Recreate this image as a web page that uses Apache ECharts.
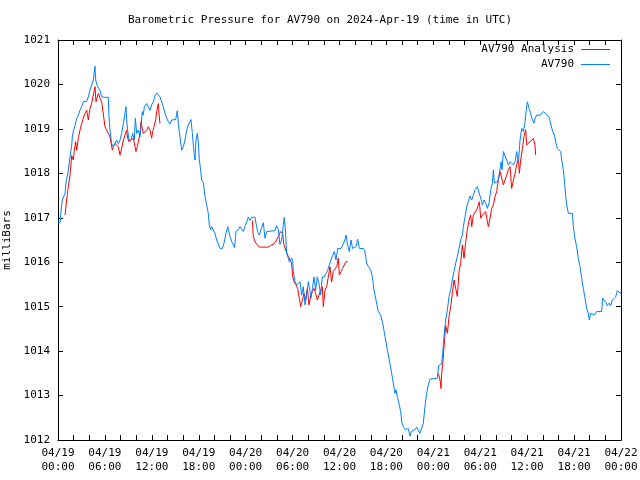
<!DOCTYPE html>
<html>
<head>
<meta charset="utf-8">
<script src="https://cdn.jsdelivr.net/npm/echarts@6/dist/echarts.min.js"></script>
<style>html,body{margin:0;padding:0;background:#fff}#c{width:640px;height:480px}</style>
</head>
<body>
<div id="c"></div>
<script>
// Hours since 2024-04-19 00:00 UTC
const blueHours = [0.0,0.26,0.4,0.55,0.77,0.9,1.02,1.32,1.53,1.75,1.83,1.96,2.17,2.39,2.6,2.81,3.03,3.24,3.45,3.67,3.88,4.09,4.3,4.52,4.73,4.82,4.95,5.07,5.24,5.37,5.58,5.93,6.44,6.52,6.65,6.86,7.08,7.29,7.5,7.72,7.93,8.14,8.36,8.57,8.7,8.78,8.91,9.08,9.34,9.55,9.76,9.89,10.06,10.27,10.49,10.61,10.78,10.91,11.04,11.21,11.34,11.55,11.77,11.98,12.19,12.4,12.62,12.83,13.04,13.26,13.47,13.68,13.9,14.11,14.32,14.54,14.75,15.05,15.26,15.39,15.6,15.82,16.03,16.24,16.46,16.67,17.01,17.18,17.4,17.52,17.65,17.82,17.95,18.07,18.24,18.37,18.59,18.8,19.01,19.22,19.35,19.52,19.65,19.86,20.08,20.29,20.5,20.72,21.01,21.23,21.48,21.7,21.83,22.0,22.21,22.42,22.59,22.76,23.06,23.27,23.49,23.7,23.91,24.13,24.34,24.55,24.77,25.19,25.32,25.53,25.75,25.96,26.26,26.47,26.68,26.9,27.75,27.96,28.18,28.39,28.6,28.82,28.94,29.11,29.24,29.46,29.58,29.88,30.01,30.1,30.31,30.52,30.73,30.95,31.16,31.37,31.59,31.8,32.01,32.23,32.35,32.57,32.74,32.95,33.16,33.38,33.59,33.8,34.06,34.27,34.49,34.7,34.91,35.13,35.34,35.55,35.77,36.19,36.4,36.62,36.83,37.04,37.26,37.47,37.68,37.9,38.11,38.32,38.54,39.05,39.26,39.47,39.69,39.98,40.2,40.41,40.67,40.96,41.26,41.52,41.82,42.12,42.37,42.67,42.88,43.1,43.22,43.39,43.65,43.82,43.99,44.16,44.42,44.59,44.8,45.01,45.23,45.44,45.65,45.87,46.08,46.29,46.5,46.72,46.93,47.15,47.36,47.57,47.79,48.51,48.68,49.06,49.2,49.37,49.58,49.8,50.01,50.22,50.43,50.65,50.86,51.07,51.29,51.5,51.71,51.84,52.06,52.27,52.48,52.69,52.91,53.12,53.33,53.63,53.85,54.06,54.27,54.48,54.7,54.91,55.12,55.34,55.55,55.68,55.81,56.02,56.23,56.45,56.66,56.79,56.96,57.17,57.38,57.6,57.81,58.02,58.24,58.45,58.66,58.88,59.09,59.3,59.52,59.73,59.86,60.03,60.24,60.45,60.67,60.88,61.01,61.22,61.43,61.65,61.86,62.07,62.29,62.58,62.84,63.05,63.27,63.48,63.69,63.86,64.08,64.29,64.42,64.63,64.76,64.93,65.06,65.27,65.78,65.91,66.12,66.33,66.54,66.76,66.97,67.18,67.4,67.61,67.82,67.95,68.12,68.33,68.59,68.89,69.53,69.66,69.87,70.08,70.25,70.47,70.68,70.89,71.11,71.32,71.53,71.74,71.96,72.0];
const bluePressure = [1016.9,1016.89,1017.18,1017.4,1017.36,1017.55,1017.78,1018.07,1018.37,1018.62,1018.82,1018.95,1019.07,1019.24,1019.31,1019.42,1019.5,1019.61,1019.65,1019.62,1019.72,1019.87,1019.99,1020.1,1020.41,1020.1,1020.1,1019.95,1019.91,1019.87,1019.72,1019.71,1019.71,1019.27,1018.97,1018.67,1018.6,1018.67,1018.75,1018.67,1018.75,1018.9,1019.12,1019.35,1019.5,1019.2,1018.97,1018.75,1018.75,1018.9,1018.75,1019.24,1018.9,1018.97,1018.82,1019.05,1019.39,1019.31,1019.5,1019.46,1019.57,1019.61,1019.42,1019.54,1019.61,1019.74,1019.81,1019.8,1019.72,1019.69,1019.5,1019.35,1019.24,1019.16,1019.11,1019.2,1019.21,1019.21,1019.41,1019.12,1018.82,1018.52,1018.6,1018.75,1018.97,1019.09,1019.21,1018.9,1018.45,1018.3,1018.75,1018.9,1018.68,1018.3,1018.08,1017.85,1017.78,1017.48,1017.29,1017.1,1016.84,1016.73,1016.8,1016.76,1016.65,1016.5,1016.41,1016.31,1016.31,1016.43,1016.65,1016.8,1016.82,1016.58,1016.46,1016.39,1016.33,1016.69,1016.73,1016.8,1016.82,1016.69,1016.8,1016.91,1017.01,1016.94,1017.01,1017.01,1016.88,1016.69,1016.61,1016.73,1016.89,1016.54,1016.69,1016.71,1016.71,1016.82,1016.73,1016.4,1016.5,1016.85,1017.01,1016.65,1016.2,1016.09,1016.01,1016.09,1016.01,1015.79,1015.56,1015.49,1015.45,1015.56,1015.26,1015.45,1015.04,1015.26,1015.56,1015.34,1015.19,1015.45,1015.67,1015.37,1015.67,1015.52,1015.26,1015.67,1015.67,1015.75,1015.82,1015.94,1016.05,1016.16,1016.24,1016.05,1016.31,1016.31,1016.35,1016.46,1016.61,1016.39,1016.24,1016.5,1016.31,1016.28,1016.35,1016.52,1016.31,1016.31,1016.24,1015.98,1015.9,1015.83,1015.68,1015.38,1015.15,1014.89,1014.81,1014.63,1014.33,1014.03,1013.8,1013.5,1013.28,1013.05,1013.13,1012.98,1012.79,1012.64,1012.38,1012.3,1012.23,1012.26,1012.26,1012.09,1012.2,1012.19,1012.23,1012.29,1012.29,1012.15,1012.13,1012.38,1012.75,1013.05,1013.24,1013.37,1013.39,1013.39,1013.67,1013.71,1013.95,1014.33,1014.7,1014.93,1015.23,1015.38,1015.6,1015.79,1015.98,1016.13,1016.31,1016.5,1016.61,1016.8,1017.03,1017.25,1017.36,1017.49,1017.4,1017.51,1017.63,1017.7,1017.7,1017.44,1017.29,1017.4,1017.33,1017.21,1017.33,1017.63,1017.78,1018.08,1017.78,1017.74,1017.81,1018.0,1018.26,1018.08,1018.49,1018.45,1018.3,1018.19,1018.26,1018.3,1018.19,1018.26,1018.49,1018.26,1018.75,1019.01,1018.94,1019.16,1019.39,1019.61,1019.46,1019.35,1019.2,1019.13,1019.24,1019.31,1019.28,1019.31,1019.28,1019.39,1019.35,1019.31,1019.24,1019.09,1018.94,1018.86,1018.68,1018.56,1018.53,1018.49,1018.3,1018.08,1017.85,1017.48,1017.29,1017.1,1017.1,1016.8,1016.52,1016.35,1016.09,1015.9,1015.64,1015.41,1015.19,1014.96,1014.85,1014.7,1014.85,1014.81,1014.81,1014.89,1014.89,1015.19,1015.21,1015.09,1015.02,1015.08,1015.02,1015.15,1015.11,1015.22,1015.36,1015.39,1015.3,1015.34];

// Analysis series; null marks a gap in the record
const redHours = [0.9,1.1,1.32,1.53,1.75,1.96,2.09,2.26,2.39,2.6,2.81,3.03,3.24,3.45,3.67,3.88,4.09,4.3,4.52,4.73,4.86,5.03,5.16,5.29,5.37,5.58,5.8,6.01,6.22,6.44,6.65,6.95,7.08,7.29,7.5,7.72,7.93,8.14,8.36,8.57,8.78,8.91,9.08,9.34,9.64,9.85,9.97,10.15,10.27,10.49,10.61,10.78,10.91,11.13,11.34,11.55,11.77,11.98,12.11,12.28,12.49,12.62,12.83,12.92,13.04,13.5,24.85,24.98,25.19,25.41,25.75,26.9,27.32,27.62,27.96,28.18,28.47,28.6,28.73,28.9,29.16,29.46,29.67,29.88,30.01,30.18,30.44,30.65,30.86,31.03,31.25,31.46,31.67,31.89,32.1,32.31,32.53,32.74,32.95,33.16,33.38,33.59,33.8,33.93,34.14,34.36,34.57,34.78,35.0,35.21,35.42,35.64,35.85,35.98,36.19,36.4,36.62,36.83,37.04,40.0,48.64,48.86,48.98,49.06,49.2,49.37,49.58,49.8,50.01,50.22,50.43,50.65,50.86,51.07,51.29,51.5,51.71,51.93,52.14,52.35,52.57,52.78,52.91,53.12,53.33,53.55,53.76,53.89,54.06,54.27,54.48,54.7,54.83,55.04,55.25,55.47,55.68,55.89,56.1,56.32,56.53,56.74,56.96,57.17,57.38,57.6,57.81,58.02,58.24,58.45,58.66,58.88,59.0,59.17,59.39,59.6,59.81,59.94,60.15,60.37,60.58,60.79,60.92,61.0,61.09];
const redPressure = [1017.06,1017.4,1017.7,1017.95,1018.4,1018.3,1018.52,1018.71,1018.52,1018.79,1018.97,1019.12,1019.24,1019.35,1019.42,1019.2,1019.46,1019.57,1019.61,1019.95,1019.61,1019.61,1019.8,1019.76,1019.69,1019.61,1019.57,1019.05,1018.97,1018.9,1018.82,1018.52,1018.6,1018.67,1018.67,1018.6,1018.41,1018.56,1018.75,1018.86,1018.97,1018.79,1018.71,1018.75,1018.79,1018.82,1018.49,1018.6,1018.71,1018.9,1019.16,1019.12,1018.9,1018.86,1018.97,1019.05,1018.97,1018.79,1018.94,1019.05,1019.2,1019.39,1019.57,1019.35,1019.12,null,1016.94,1016.58,1016.46,1016.41,1016.34,1016.34,1016.39,1016.41,1016.5,1016.58,1016.69,1016.69,1016.65,1016.39,1016.25,1016.13,1016.05,1015.98,1015.67,1015.56,1015.49,1015.41,1015.19,1015.0,1015.15,1015.3,1015.15,1015.41,1015.04,1015.22,1015.34,1015.41,1015.3,1015.15,1015.26,1015.37,1015.45,1015.0,1015.37,1015.45,1015.67,1015.9,1015.56,1015.79,1015.82,1015.9,1016.09,1015.71,1015.79,1015.86,1015.94,1016.01,1016.01,null,1013.5,1013.35,1013.16,1013.5,1013.7,1014.1,1014.57,1014.4,1014.78,1015.0,1015.3,1015.6,1015.41,1015.23,1015.79,1015.98,1016.39,1016.09,1016.46,1016.73,1016.95,1017.06,1016.8,1017.06,1017.1,1017.18,1017.29,1017.36,1016.99,1017.06,1017.1,1017.14,1016.99,1016.8,1016.99,1017.21,1017.29,1017.48,1017.59,1017.85,1018.04,1018.08,1017.74,1017.85,1017.96,1018.08,1018.15,1017.66,1017.85,1018.0,1018.19,1018.34,1018.0,1018.3,1018.56,1018.83,1018.98,1018.64,1018.68,1018.71,1018.75,1018.79,1018.83,1018.64,1018.41];

const seriesNames = ['AV790 Analysis', 'AV790'];
const titleText = 'Barometric Pressure for AV790 on 2024-Apr-19 (time in UTC)';
const yName = 'milliBars';

const FONT = 'DejaVu Sans Mono';
function pad(n){return (n<10?'0':'')+n;}
function xLabel(h){
  if (Math.round(h) % 6 !== 0) return '';
  const day = 19 + Math.floor(h/24);
  const hr = Math.round(h) % 24;
  return '04/' + pad(day) + '\n' + pad(hr) + ':00';
}
const blueData = blueHours.map((h,i)=>[h, bluePressure[i]]);
const redData = redHours.map((h,i)=>[h, redPressure[i] === null ? '-' : redPressure[i]]);

const axisCommon = {
  axisLine:{show:true, onZero:false, lineStyle:{color:'#000', width:1}},
  axisTick:{show:true, inside:true, length:5, lineStyle:{color:'#000'}},
  splitLine:{show:false}
};
const legendCommon = {orient:'vertical', right:25, align:'right', icon:'rect', itemWidth:29, itemHeight:1, itemGap:0,
  textStyle:{fontFamily:FONT, fontSize:11, color:'#000', padding:[0,2,0,0]}};
const chart = echarts.init(document.getElementById('c'), null, {renderer:'canvas'});
chart.setOption({
  animation:false,
  backgroundColor:'#fff',
  textStyle:{fontFamily:FONT},
  title:{text:titleText, left:'center', top:10, textStyle:{fontFamily:FONT, fontSize:11, fontWeight:'normal', color:'#000'}},
  legend:[
    Object.assign({data:[seriesNames[0]], top:39}, legendCommon),
    Object.assign({data:[seriesNames[1]], top:54}, legendCommon)
  ],
  grid:{left:58, right:19, top:40, bottom:40, containLabel:false, outerBoundsMode:'none'},
  xAxis:[
    Object.assign({type:'value', min:0, max:72, interval:2, position:'bottom',
      axisLabel:{formatter:xLabel, fontFamily:FONT, fontSize:11, color:'#000', margin:6, lineHeight:14, showMinLabel:true, showMaxLabel:true, hideOverlap:false}}, axisCommon),
    Object.assign({type:'value', min:0, max:72, interval:2, position:'top', axisLabel:{show:false}}, axisCommon)
  ],
  yAxis:[
    Object.assign({type:'value', min:1012, max:1021, interval:1, position:'left',
      name:yName, nameLocation:'middle', nameGap:42, nameRotate:90,
      nameTextStyle:{fontFamily:FONT, fontSize:11, color:'#000'},
      axisLabel:{fontFamily:FONT, fontSize:11, color:'#000', margin:8, formatter:(v)=>String(v)}}, axisCommon),
    Object.assign({type:'value', min:1012, max:1021, interval:1, position:'right', axisLabel:{show:false}}, axisCommon)
  ],
  series:[
    {name:seriesNames[0], type:'line', data:redData, xAxisIndex:0, yAxisIndex:0, symbol:'none', showSymbol:false,
     connectNulls:false, lineStyle:{color:'#ff0000', width:1}, itemStyle:{color:'#ff0000'}},
    {name:seriesNames[1], type:'line', data:blueData, xAxisIndex:0, yAxisIndex:0, symbol:'none', showSymbol:false,
     lineStyle:{color:'#0080ff', width:1}, itemStyle:{color:'#0080ff'}}
  ]
});
</script>
</body>
</html>
